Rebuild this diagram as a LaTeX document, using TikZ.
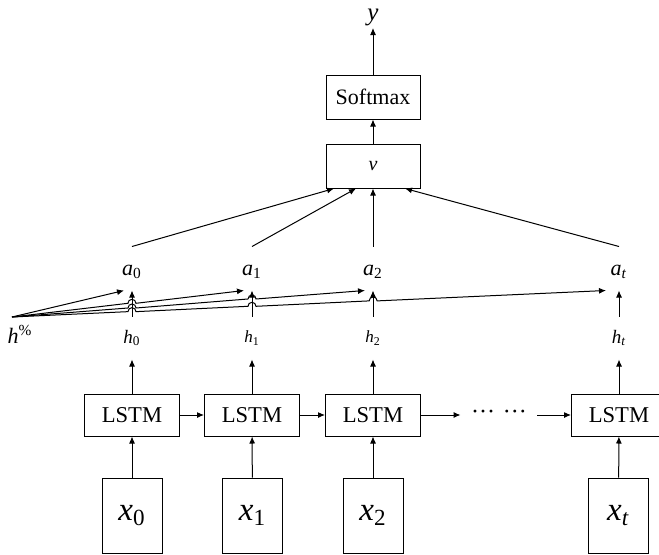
\documentclass[tikz,border=0pt]{standalone}
\usepackage{fontspec}
\setmainfont{Liberation Serif}
\usetikzlibrary{calc,arrows.meta}

\begin{document}
\begin{tikzpicture}[x=0.5pt,y=0.5pt,line width=0.5pt,>={Latex[length=3.5pt,width=3pt]},
 box/.style={draw,minimum width=47.5pt,minimum height=21pt,inner sep=0pt,font=\fontsize{11.3}{13}\selectfont},
 inbox/.style={draw,minimum width=30pt,minimum height=37.5pt,inner sep=0pt,font=\fontsize{16.5}{18}\selectfont},
 alab/.style={inner sep=0pt,minimum height=18pt,font=\fontsize{11}{12}\selectfont},
 hlab/.style={inner sep=0pt,minimum height=21pt,font=\fontsize{8.5}{10}\selectfont}]

 \useasboundingbox (0,0) rectangle (659,554);

 \node (y) at (373,526) [anchor=south,inner sep=1pt,font=\fontsize{12.5}{14}\selectfont] {\textit{y}};
 
 \node[box,minimum width=47pt,minimum height=22pt,font=\fontsize{11}{13}\selectfont] (soft) at (373,457) {Softmax};
 
 \node[box,minimum width=47pt,minimum height=22pt,font=\fontsize{10}{11}\selectfont] (v) at (373,388) {\textit{v}};
 
 \node[alab] (a0) at (132,282) {\textit{a}\textsubscript{0}};
 \node[alab] (a1) at (252,282) {\textit{a}\textsubscript{1}};
 \node[alab] (a2) at (373,282) {\textit{a}\textsubscript{2}};
 \node[alab] (at) at (619,282) {\textit{a}\textsubscript{\textit{t}}};
 
 \node[hlab,font=\fontsize{9.5}{11}\selectfont] (h0) at (132,216) {\textit{h}\textsubscript{0}};
 \node[hlab] (h1) at (252,216) {\textit{h}\textsubscript{1}};
 \node[hlab] (h2) at (373,216) {\textit{h}\textsubscript{2}};
 \node[hlab,font=\fontsize{9.5}{11}\selectfont] (ht) at (619,216) {\textit{h}\textsubscript{\textit{t}}};
 
 \node[inner sep=0pt,font=\fontsize{11}{12}\selectfont] (hp) at (20,220) {\textit{h}\textsuperscript{\%}};
 \coordinate (hsrc) at (12,237);
 
 \node[box] (l0) at (132,139) {LSTM};
 \node[box] (l1) at (252,139) {LSTM};
 \node[box] (l2) at (373,139) {LSTM};
 \node[box] (lt) at (619,139) {LSTM};
 
 \node[inner ysep=0pt,inner xsep=5pt,font=\fontsize{12}{14}\selectfont] (dots) at (499,139) {···\hspace{4pt}···};
 
 \node[inbox] (x0) at (132,38.5) {\textit{x}\textsubscript{0}};
 \node[inbox] (x1) at (252.5,38.5) {\textit{x}\textsubscript{1}};
 \node[inbox] (x2) at (373,38.5) {\textit{x}\textsubscript{2}};
 \node[inbox] (xt) at (618.5,38.5) {\textit{x}\textsubscript{\textit{t}}};
 
 \coordinate (p0) at ([xshift=-4pt]a0.south);
 \coordinate (p1) at ([xshift=-4pt]a1.south);
 \coordinate (p2) at ([xshift=-4pt]a2.south);
 \coordinate (pt) at ([xshift=-6.5pt]at.south);
 
 \draw[->] (soft) -- (y);
 \draw[->] (v) -- (soft);
 
 \draw[->] ([yshift=3.5pt]a0.north) -- ([xshift=-19.5pt]v.south);
 \draw[->] ([yshift=3.5pt]a1.north) -- ([xshift=-8.5pt]v.south);
 \draw[->] ([yshift=3.5pt]a2.north) -- (v.south);
 \draw[->] ([yshift=3.5pt]at.north) -- ([xshift=16pt]v.south);
 
 \draw[->] (h0) -- (a0);
 \draw[->] (h1) -- (a1);
 \draw[->] (h2) -- (a2);
 \draw[->] (ht) -- (at);
 
 \draw[->] (hsrc) -- (p0);
 \draw[->] (hsrc) -- ($(hsrc)!0.517!(p1)+(-4,0)$) arc[start angle=180,end angle=0,radius=2pt] -- (p1);
 \draw[->] (hsrc) -- ($(hsrc)!0.340!(p2)+(-4,0)$) arc[start angle=180,end angle=0,radius=2pt]
  -- ($(hsrc)!0.680!(p2)+(-4,0)$) arc[start angle=180,end angle=0,radius=2pt] -- (p2);
 \draw[->] (hsrc) -- ($(hsrc)!0.202!(pt)+(-4,0)$) arc[start angle=180,end angle=0,radius=2pt]
  -- ($(hsrc)!0.404!(pt)+(-4,0)$) arc[start angle=180,end angle=0,radius=2pt]
  -- ($(hsrc)!0.608!(pt)+(-4,0)$) arc[start angle=180,end angle=0,radius=2pt] -- (pt);
 
 \draw[->] (l0) -- (h0);
 \draw[->] (l1) -- (h1);
 \draw[->] (l2) -- (h2);
 \draw[->] (lt) -- (ht);
 
 \draw[->] (l0) -- (l1);
 \draw[->] (l1) -- (l2);
 \draw[->] (l2) -- (dots);
 \draw[->] (dots) -- (lt);
 
 \draw[->] (x0) -- (l0);
 \draw[->] (x1) -- (l1);
 \draw[->] (x2) -- (l2);
 \draw[->] (xt) -- (lt);
 
\end{tikzpicture}
\end{document}
